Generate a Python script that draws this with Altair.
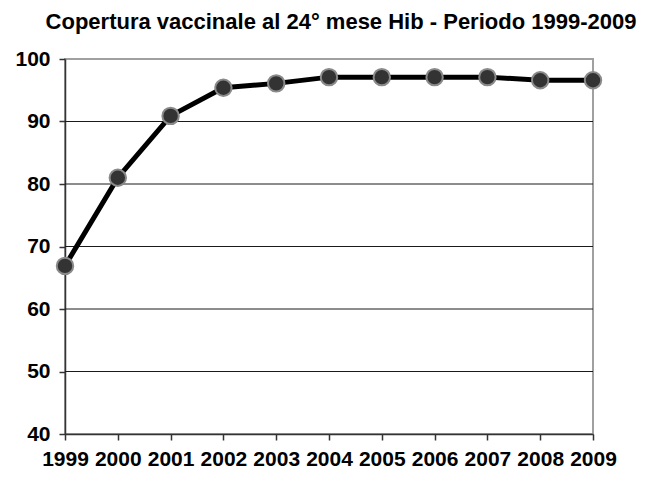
import altair as alt
import pandas as pd

years = [1999, 2000, 2001, 2002, 2003, 2004, 2005, 2006, 2007, 2008, 2009]
coverage = [66.9, 81.0, 90.9, 95.4, 96.1, 97.1, 97.1, 97.1, 97.1, 96.6, 96.6]
y_ticks = [40, 50, 60, 70, 80, 90, 100]
grid_values = [50, 60, 70, 80, 90]
title_text = "Copertura vaccinale al 24° mese Hib - Periodo 1999-2009"

df = pd.DataFrame({"anno": years, "copertura": coverage})
grid_df = pd.DataFrame({"copertura": grid_values})

FONT = "Liberation Sans"

x_enc = alt.X(
    "anno:Q",
    scale=alt.Scale(domain=[1999, 2009], nice=False, zero=False),
    axis=alt.Axis(
        values=years, format="d", title=None, grid=False,
        labelFont=FONT, labelFontSize=21, labelFontWeight="bold", labelColor="#000000",
        labelOverlap=False, labelBaseline="alphabetic", labelPadding=25,
        labelFlush=False,
        tickSize=6, tickColor="#333333", tickWidth=1.5,
        domainColor="#333333", domainWidth=1.5,
    ),
)
y_scale = alt.Scale(domain=[40, 100], nice=False, zero=False)
y_axis = alt.Axis(
    values=y_ticks, title=None, grid=False,
    labelFont=FONT, labelFontSize=21, labelFontWeight="bold", labelColor="#000000",
    labelPadding=9, labelFlush=False,
    tickSize=6, tickColor="#333333", tickWidth=1.5,
    domainColor="#333333", domainWidth=1.5,
)
y_enc = alt.Y("copertura:Q", scale=y_scale, axis=y_axis)

grid = alt.Chart(grid_df).mark_rule(color="#1a1a1a", strokeWidth=1).encode(y=y_enc)

line = alt.Chart(df).mark_line(color="#000000", strokeWidth=5).encode(x=x_enc, y=y_enc)
points = alt.Chart(df).mark_point(
    filled=True, fill="#333333", stroke="#8a8a8a", strokeWidth=2, size=270, opacity=1
).encode(x=x_enc, y=y_enc)

chart = (
    alt.layer(grid, line, points)
    .properties(
        width=528,
        height=375,
        autosize=alt.AutoSizeParams(type="none"),
        padding={"left": 57, "top": 51, "right": 50, "bottom": 35},
        title=alt.TitleParams(
            title_text, font=FONT, fontSize=22, fontWeight="bold", color="#000000",
            anchor="middle", dx=12, offset=14,
        ),
    )
    .configure_view(stroke="#a0a0a0", strokeWidth=2)
)

chart.save("out.html", embed_options={"renderer": "svg", "actions": False})
